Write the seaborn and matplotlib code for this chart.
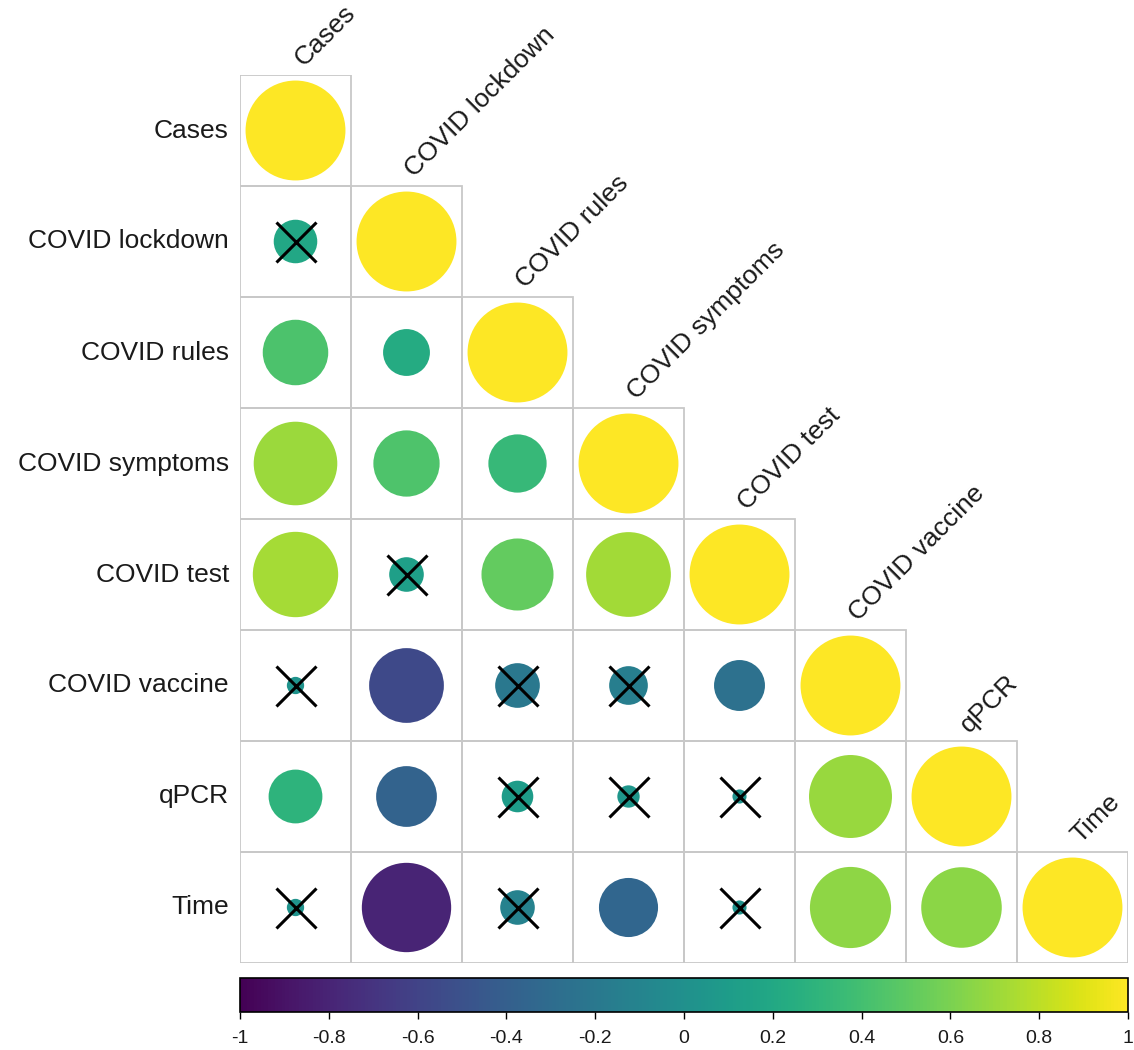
import numpy as np
import pandas as pd
import matplotlib
matplotlib.use('Agg')
import matplotlib.pyplot as plt
from matplotlib.patches import Rectangle
import seaborn as sns

variables = ['Cases', 'COVID lockdown', 'COVID rules', 'COVID symptoms',
             'COVID test', 'COVID vaccine', 'qPCR', 'Time']

# lower triangle of the correlation matrix (row by row, diagonal included)
corr_rows = [
    [1.00],
    [0.19, 1.00],
    [0.43, 0.22, 1.00],
    [0.70, 0.44, 0.34, 1.00],
    [0.73, 0.12, 0.52, 0.72, 1.00],
    [0.03, -0.56, -0.20, -0.15, -0.26, 1.00],
    [0.29, -0.37, 0.10, 0.05, 0.02, 0.69, 1.00],
    [0.03, -0.80, -0.12, -0.35, 0.02, 0.66, 0.65, 1.00],
]

# 1 = not significant (drawn with a cross)
nonsig_rows = [
    [0],
    [1, 0],
    [0, 0, 0],
    [0, 0, 0, 0],
    [0, 1, 0, 0, 0],
    [1, 0, 1, 1, 0, 0],
    [0, 0, 1, 1, 1, 0, 0],
    [1, 0, 1, 0, 1, 0, 0, 0],
]

registros = []
for i, fila in enumerate(corr_rows):
    for j, r in enumerate(fila):
        registros.append({'fila': i, 'col': j, 'r': r, 'abs_r': abs(r),
                          'ns': nonsig_rows[i][j]})
df = pd.DataFrame(registros)
df['x'] = df['col'] + 0.5
df['y'] = df['fila'] + 0.5

plt.rcParams['font.family'] = ['Liberation Sans', 'DejaVu Sans']

fig = plt.figure(figsize=(11.34, 10.5), dpi=100)
ax = fig.add_axes([240 / 1134, 1 - 963 / 1050, 888 / 1134, 888 / 1050])
ax.set_xlim(0, 8)
ax.set_ylim(8, 0)
ax.axis('off')

# grid cells
for _, fila in df.iterrows():
    ax.add_patch(Rectangle((fila['col'], fila['fila']), 1, 1, fill=False,
                           edgecolor='#c8c8c8', linewidth=1.3, zorder=1))

cell_pt = 888 / 8 * 72 / 100
s_max = (0.9 * cell_pt) ** 2

sns.scatterplot(data=df, x='x', y='y', hue='r', size='abs_r',
                palette='viridis', hue_norm=(-1, 1),
                sizes=(0, s_max), size_norm=(0, 1),
                linewidth=0, legend=False, ax=ax, zorder=2)

ns = df[df['ns'] == 1]
ax.scatter(ns['x'], ns['y'], marker='x', s=(40 * 0.72) ** 2,
           color='black', linewidths=2.2, zorder=3)

# row labels
for i, nombre in enumerate(variables):
    ax.text(-0.1, i + 0.5, nombre, ha='right', va='center', fontsize=19,
            color='#1a1a1a')

# column labels, rotated above the diagonal
for j, nombre in enumerate(variables):
    ax.text(j + 0.57, j - 0.07, nombre, ha='left', va='baseline',
            fontsize=19, rotation=45, rotation_mode='anchor',
            color='#1a1a1a')

# colour bar
cax = fig.add_axes([240 / 1134, 1 - 1012 / 1050, 888 / 1134, 34 / 1050])
sm = plt.cm.ScalarMappable(cmap='viridis', norm=plt.Normalize(-1, 1))
cb = fig.colorbar(sm, cax=cax, orientation='horizontal')
ticks = np.round(np.arange(-1, 1.01, 0.2), 1)
cb.set_ticks(ticks)
cb.set_ticklabels(['{:g}'.format(t) if t != 0 else '0' for t in ticks])
cb.outline.set_edgecolor('black')
cb.outline.set_linewidth(1.2)
cax.tick_params(labelsize=14, length=5, width=1, direction='out', pad=8,
                labelcolor='#1a1a1a')

fig.savefig('out.png', dpi=100)
